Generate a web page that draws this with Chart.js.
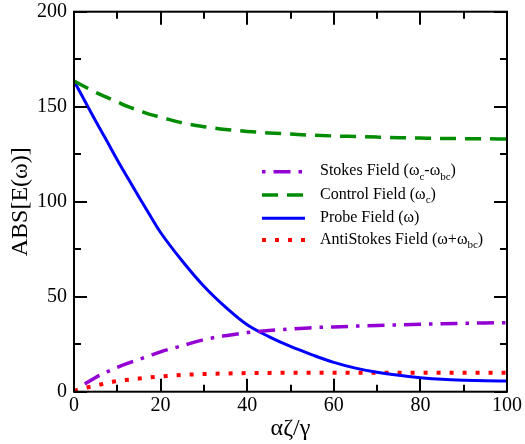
<!DOCTYPE html>
<html>
<head>
<meta charset="utf-8">
<script src="https://cdn.jsdelivr.net/npm/chart.js@4/dist/chart.umd.min.js"></script>
<style>
  html, body { margin: 0; padding: 0; background: #fff; }
  #wrap { width: 525px; height: 444px; }
</style>
</head>
<body>
<div id="wrap"><canvas id="c" width="525" height="444"></canvas></div>
<script>
// Propagation distance grid (αζ/γ)
const zeta = [0, 2.5, 5, 7.5, 10, 12.5, 15, 17.5, 20, 25, 30, 35, 40, 45, 50, 55, 60, 65, 70, 75, 80, 85, 90, 95, 100];

// Field amplitudes |E(ω)| along the medium
const stokes     = [null, 4, 7.5, 10.3, 12.8, 15, 17, 19, 21, 24.2, 27.4, 29.5, 31.1, 32.2, 33, 33.7, 34.1, 34.5, 34.9, 35.2, 35.5, 35.8, 36, 36.2, 36.3];
const control    = [163.5, 160.5, 157.5, 155, 152.5, 150, 148, 146, 144.5, 141.5, 139.5, 138, 137, 136.2, 135.6, 135, 134.6, 134.3, 134, 133.7, 133.5, 133.3, 133.2, 133.1, 133];
const probe      = [163.5, 153, 142.5, 132.3, 122, 112.2, 102.5, 93, 83.8, 68.8, 55.5, 44.5, 35.2, 29, 23.8, 19.4, 15.4, 12.4, 10.2, 8.6, 7.4, 6.5, 6, 5.7, 5.6];
const antiStokes = [0.5, 2, 3.2, 4.5, 5.6, 6.3, 6.9, 7.5, 8, 8.8, 9.3, 9.6, 9.8, 9.9, 10, 10, 10, 10, 10, 10, 10, 10, 10, 10, 10];

// Axis ticks
const xMajor = [0, 20, 40, 60, 80, 100];
const xMinor = [10, 30, 50, 70, 90];
const yMajor = [0, 50, 100, 150, 200];
const yMinor = [25, 75, 125, 175];

const SERIF = '"Liberation Serif", "Times New Roman", serif';

// Legend labels: [text, isSubscript]
const legendLabels = [
  [['Stokes Field (ω', false], ['c', true], ['-ω', false], ['bc', true], [')', false]],
  [['Control Field (ω', false], ['c', true], [')', false]],
  [['Probe Field (ω)', false]],
  [['AntiStokes Field (ω+ω', false], ['bc', true], [')', false]]
];

const styles = [
  { color: '#9400d3', width: 3.5, dash: [17, 8, 3.5, 8], legendOffset: 25 },
  { color: '#008c00', width: 3.5, dash: [16, 9], legendOffset: 0 },
  { color: '#0000ff', width: 3, dash: [], legendOffset: 0 },
  { color: '#ff0000', width: 4, dash: [4, 9], legendOffset: 0 }
];

const series = [stokes, control, probe, antiStokes];

const datasets = series.map((vals, i) => ({
  label: legendLabels[i].map(s => s[0]).join(''),
  data: zeta.map((z, k) => ({ x: z, y: vals[k] })).filter(p => p.y !== null),
  borderColor: styles[i].color,
  borderWidth: styles[i].width,
  borderDash: styles[i].dash,
  borderCapStyle: 'butt',
  pointRadius: 0,
  fill: false,
  cubicInterpolationMode: 'monotone'
}));

// Frame with inward ticks on all four sides, plus the legend box contents
const framePlugin = {
  id: 'frame',
  afterDraw(chart) {
    const { ctx, chartArea: a, scales } = chart;
    const xs = scales.x, ys = scales.y;
    ctx.save();
    ctx.strokeStyle = '#000';
    ctx.lineWidth = 2;
    ctx.setLineDash([]);
    ctx.strokeRect(a.left, a.top, a.right - a.left, a.bottom - a.top);

    const tick = (vals, len, horiz) => {
      vals.forEach(v => {
        ctx.beginPath();
        if (horiz) {
          const px = Math.round(xs.getPixelForValue(v));
          ctx.moveTo(px, a.bottom); ctx.lineTo(px, a.bottom - len);
          ctx.moveTo(px, a.top); ctx.lineTo(px, a.top + len);
        } else {
          const py = Math.round(ys.getPixelForValue(v));
          ctx.moveTo(a.left, py); ctx.lineTo(a.left + len, py);
          ctx.moveTo(a.right, py); ctx.lineTo(a.right - len, py);
        }
        ctx.stroke();
      });
    };
    tick(xMajor, 13, true);
    tick(xMinor, 7, true);
    tick(yMajor, 13, false);
    tick(yMinor, 7, false);

    // legend
    const rowY = [171.7, 195, 218.3, 240];
    legendLabels.forEach((parts, i) => {
      const st = styles[i];
      const y = rowY[i];
      ctx.beginPath();
      ctx.strokeStyle = st.color;
      ctx.lineWidth = st.width;
      ctx.lineCap = 'butt';
      ctx.setLineDash(st.dash);
      ctx.lineDashOffset = st.legendOffset;
      ctx.moveTo(262, y);
      ctx.lineTo(305, y);
      ctx.stroke();
      ctx.setLineDash([]);
      ctx.lineDashOffset = 0;

      let x = 320;
      ctx.fillStyle = '#000';
      ctx.textBaseline = 'alphabetic';
      ctx.textAlign = 'left';
      parts.forEach(([txt, sub]) => {
        ctx.font = (sub ? '11px ' : '16px ') + SERIF;
        ctx.fillText(txt, x, y + 3.5 + (sub ? 4.5 : 0));
        x += ctx.measureText(txt).width;
      });
    });
    ctx.restore();
  }
};

new Chart(document.getElementById('c'), {
  type: 'line',
  data: { datasets },
  options: {
    responsive: false,
    animation: false,
    events: [],
    layout: { padding: { top: 11.7, right: 18, left: 0, bottom: 0 } },
    plugins: { legend: { display: false }, tooltip: { enabled: false } },
    scales: {
      x: {
        type: 'linear',
        min: 0, max: 100,
        afterBuildTicks(s) { s.ticks = xMajor.map(v => ({ value: v })); },
        afterFit(s) { s.height = 52.3; },
        grid: { display: false, drawTicks: true, tickLength: 4 },
        border: { display: false },
        ticks: { color: '#000', padding: 0, maxRotation: 0, font: { family: SERIF, size: 20, lineHeight: 1 } },
        title: { display: true, text: 'αζ/γ', color: '#000', padding: { top: 0, bottom: 1 }, font: { family: SERIF, size: 24 } }
      },
      y: {
        type: 'linear',
        min: 0, max: 200,
        afterBuildTicks(s) { s.ticks = yMajor.map(v => ({ value: v })); },
        afterFit(s) { s.width = 74; },
        grid: { display: false, drawTicks: true, tickLength: 7 },
        border: { display: false },
        ticks: { color: '#000', padding: 0, font: { family: SERIF, size: 20, lineHeight: 1 } },
        title: { display: true, text: 'ABS[E(ω)]', color: '#000', padding: { top: 6.5, bottom: 0 }, font: { family: SERIF, size: 24 } }
      }
    }
  },
  plugins: [framePlugin]
});
</script>
</body>
</html>
